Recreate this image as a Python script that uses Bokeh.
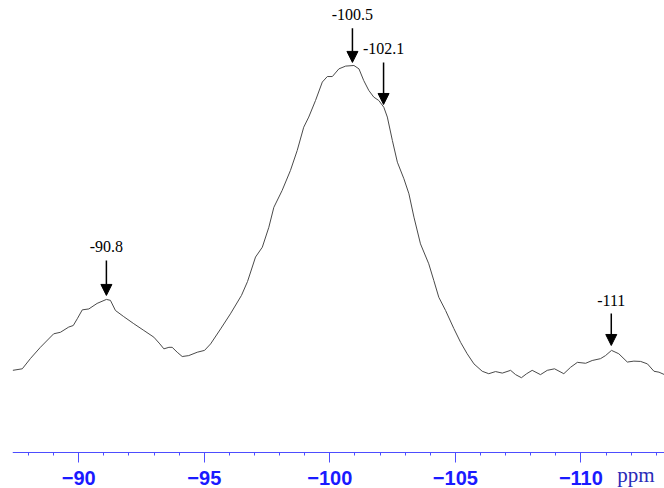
from bokeh.plotting import figure
from bokeh.models import (Range1d, FixedTicker, ColumnDataSource, Arrow, NormalHead, Label)
from bokeh.core.properties import value
from bokeh.embed import file_html
from bokeh.resources import INLINE

# --- spectrum (chemical shift in ppm, relative intensity) ---
ppm = [-87.37, -87.75, -88.08, -88.47, -89.00, -89.27, -89.60, -89.78, -89.94, -90.14,
       -90.40, -90.73, -91.10, -91.26, -91.46, -91.79, -92.19, -92.59, -92.99, -93.23,
       -93.39, -93.59, -93.72, -93.92, -94.12, -94.38, -94.72, -95.01, -95.25, -95.65,
       -96.04, -96.48, -96.72, -97.04, -97.31, -97.57, -97.77, -98.10, -98.43, -98.70,
       -98.96, -99.16, -99.43, -99.70, -99.90, -100.10, -100.36, -100.63, -100.96, -101.16,
       -101.35, -101.55, -101.75, -101.95, -102.15, -102.29, -102.49, -102.69, -102.95, -103.15,
       -103.35, -103.61, -103.94, -104.14, -104.34, -104.61, -104.94, -105.21, -105.47, -105.74,
       -106.07, -106.33, -106.60, -106.87, -107.20, -107.40, -107.63, -107.84, -108.06, -108.39,
       -108.66, -108.95, -109.32, -109.59, -109.86, -110.19, -110.45, -110.78, -110.98, -111.22,
       -111.51, -111.85, -112.11, -112.38, -112.65, -112.91, -113.11, -113.33]
intensity = [0.7, 1.2, 4.6, 8.2, 12.6, 13.1, 14.8, 15.3, 17.5, 20.4,
             20.7, 22.5, 23.8, 23.5, 20.2, 18.2, 15.9, 13.7, 11.5, 9.3,
             7.7, 8.2, 8.2, 6.6, 5.2, 5.5, 6.6, 7.2, 9.3, 14.2,
             19.1, 25.1, 29.6, 37.6, 40.8, 47.3, 53.8, 59.3, 65.8, 72.3,
             79.9, 83.2, 88.6, 94.6, 96.4, 96.4, 98.9, 99.8, 100.0, 98.9,
             95.1, 91.9, 89.7, 88.6, 86.4, 83.2, 75.6, 68.5, 63.1, 58.2,
             50.6, 41.9, 35.4, 30.0, 24.5, 20.2, 14.3, 9.8, 6.1, 2.8,
             0.4, -0.4, 0.3, -0.2, 0.7, -0.7, -1.7, -0.4, 0.7, -0.7,
             0.7, 1.2, -0.4, 1.7, 3.3, 3.0, 3.9, 4.5, 5.5, 7.2,
             6.1, 3.4, 3.7, 3.6, 2.8, 0.4, 0.1, -0.7]

# --- axis ticks ---
tick_values = [-90, -95, -100, -105, -110]
tick_labels = ["\u221290", "\u221295", "\u2212100", "\u2212105", "\u2212110"]
minor_values = list(range(-113, -87))
axis_unit = "ppm"

# --- peak annotations ---
ann_text = ["-90.8", "-100.5", "-102.1", "-111"]
ann_x = [-91.10, -100.90, -102.14, -111.21]
ann_top = [36.5, 112.1, 101.0, 19.2]
ann_tip = [25.1, 101.0, 87.3, 8.8]
ann_label_y = [39.1, 114.7, 103.9, 21.8]

p = figure(width=664, height=488, output_backend="svg", toolbar_location=None,
           x_range=Range1d(-87.36, -113.33), y_range=Range1d(-37.79, 121.17),
           y_axis_location=None, min_border_left=12, min_border_right=0,
           min_border_top=0, min_border_bottom=0)
p.outline_line_color = None
p.grid.visible = False
p.background_fill_color = "white"

p.line(ppm, intensity, line_color="#4a4a4a", line_width=1)

ax = p.xaxis[0]
ax.fixed_location = -26.06
ax.ticker = FixedTicker(ticks=tick_values, minor_ticks=minor_values)
ax.major_label_overrides = {v: t for v, t in zip(tick_values, tick_labels)}
ax.axis_line_color = "#4d4dff"
ax.major_tick_line_color = "#4d4dff"
ax.minor_tick_line_color = "#4d4dff"
ax.major_tick_out = 10
ax.major_tick_in = 0
ax.minor_tick_out = 3
ax.minor_tick_in = 0
ax.major_label_standoff = 9
ax.major_label_text_color = "#1a1aff"
ax.major_label_text_font = "Liberation Sans"
ax.major_label_text_font_style = "bold"
ax.major_label_text_font_size = "20px"

p.add_layout(Label(x=-111.45, y=-29.4, text=axis_unit, text_font="Liberation Serif",
                   text_font_size="21px", text_color="#2a2ab8",
                   text_baseline="top", text_align="left"))

src = ColumnDataSource(dict(x=ann_x, top=ann_top, tip=ann_tip, ly=ann_label_y, t=ann_text))
p.add_layout(Arrow(end=NormalHead(size=11, fill_color="black", line_color="black"),
                   x_start="x", y_start="top", x_end="x", y_end="tip", source=src,
                   line_color="black", line_width=1.5))
p.text(x="x", y="ly", text="t", source=src, text_font=value("Liberation Serif"),
       text_font_size="16px", text_align="center", text_baseline="bottom", text_color="black")

open("out.html", "w").write(file_html(p, INLINE))
